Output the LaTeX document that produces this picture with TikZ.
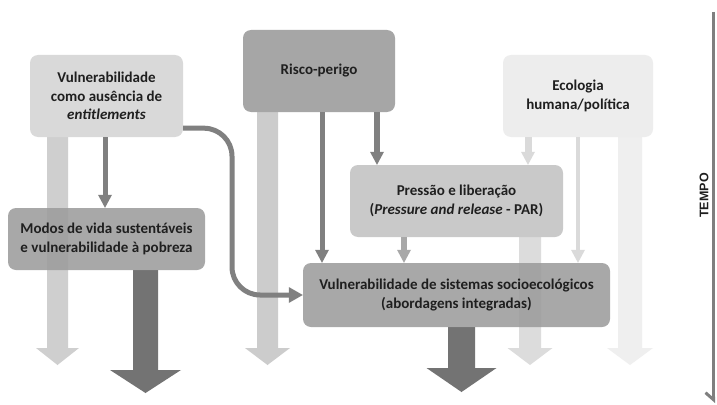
\documentclass[tikz,border=0pt]{standalone}
\usepackage{fontspec}
\setmainfont{Carlito}
\newfontfamily\arialfont{Liberation Sans}
\usetikzlibrary{arrows.meta,calc}
\pgfdeclarelayer{back}
\pgfdeclarelayer{bg}
\pgfsetlayers{back,bg,main}

\definecolor{txt}{HTML}{1F1F1F}
\definecolor{cEnt}{HTML}{D9D9D9}
\definecolor{cRisco}{HTML}{A6A6A6}
\definecolor{cEco}{HTML}{EDEDED}
\definecolor{cPar}{HTML}{C9C9C9}
\definecolor{cMid}{HTML}{9C9C9C}
\definecolor{wideA}{HTML}{CFCFCF}
\definecolor{wideB}{HTML}{CCCCCC}
\definecolor{wideC}{HTML}{DCDCDC}
\definecolor{wideD}{HTML}{EFEFEF}
\definecolor{darkA}{HTML}{737373}
\definecolor{thinA}{HTML}{808080}
\definecolor{thinB}{HTML}{A8A8A8}
\definecolor{thinC}{HTML}{DADADA}
\definecolor{axisc}{HTML}{7F7F7F}

% block arrow: #1 colour, #2 start, #3 tip, #4 shaft half width, #5 head half width, #6 head length
\newcommand\blockarr[6]{%
  \fill[#1] ($(#2)+(-#4,0)$) -- ($(#3)+(-#4,-#6)$) -- ($(#3)+(-#5,-#6)$) -- (#3)
    -- ($(#3)+(#5,-#6)$) -- ($(#3)+(#4,-#6)$) -- ($(#2)+(#4,0)$) -- cycle;}

\tikzset{
  box/.style={rounded corners=8pt, align=center, text=txt, inner sep=0pt,
    font=\bfseries\fontsize{15}{18.7}\selectfont},
  thin/.style={line width=5pt, draw=thinA,
    -{Triangle[width=14pt,length=13pt,line width=0pt]}},
}

\begin{document}
\begin{tikzpicture}[x=1pt,y=-1pt]
\useasboundingbox (0,0) rectangle (717,404);
\begin{pgfonlayer}{back}
  \fill[white] (0,0) rectangle (717,404);
\end{pgfonlayer}

% boxes
\node[box, fill=cEnt, minimum width=153pt, minimum height=82pt] (ent) at (106.5,96)
  {Vulnerabilidade\\como ausência de\\\textit{entitlements}};
\node[box, fill=cRisco, minimum width=152pt, minimum height=82pt] (risco) at (319,71)
  {Risco-perigo};
\node[box, fill=cEco, minimum width=150pt, minimum height=82pt] (eco) at (578,96)
  {Ecologia\\humana/política};
\node[box, fill=cPar, minimum width=213pt, minimum height=72pt] (par) at (456.5,201)
  {Pressão e liberação\\(\textit{Pressure and release} - PAR)};
\node[box, fill=cMid, fill opacity=0.88, text opacity=1, minimum width=197pt, minimum height=62pt] (modos) at (106.5,239)
  {Modos de vida sustentáveis\\e vulnerabilidade à pobreza};
\node[box, fill=cMid, fill opacity=0.88, text opacity=1, minimum width=307pt, minimum height=64pt] (vuln) at (456.5,295)
  {Vulnerabilidade de sistemas socioecológicos\\(abordagens integradas)};

% wide background arrows
\coordinate (w1e) at (57.5,365);  \coordinate (w1s) at (w1e |- ent.south);
\coordinate (w2e) at (267.5,365); \coordinate (w2s) at (w2e |- risco.south);
\coordinate (w3e) at (530,365);   \coordinate (w3s) at (w3e |- par.south);
\coordinate (w4e) at (630,365);   \coordinate (w4s) at (w4e |- eco.south);
\coordinate (d1e) at (145.5,393); \coordinate (d1s) at (d1e |- modos.south);
\coordinate (d2e) at (461.5,392); \coordinate (d2s) at (d2e |- vuln.south);
\begin{pgfonlayer}{bg}
  \blockarr{wideA}{w1s}{w1e}{10.5}{21.5}{17}
  \blockarr{wideB}{w2s}{w2e}{10.5}{22.5}{17}
  \blockarr{wideC}{w3s}{w3e}{11}{22.5}{17}
  \blockarr{wideD}{w4s}{w4e}{12}{23}{17}
  \blockarr{darkA}{d1s}{d1e}{12.5}{35.5}{23}
  \blockarr{darkA}{d2s}{d2e}{13.5}{35}{24}
\end{pgfonlayer}

% thin arrows
\coordinate (xa) at (105,0);
\coordinate (xb) at (322,0);
\coordinate (xc) at (377,0);
\coordinate (xd) at (404,0);
\coordinate (xe) at (528,0);
\coordinate (xf) at (578,0);
\draw[thin] (xa |- ent.south) -- (xa |- modos.north);
\draw[thin] (xb |- risco.south) -- (xb |- vuln.north);
\draw[thin, line width=6pt] (xc |- risco.south) -- (xc |- par.north);
\draw[thin, line width=6pt, draw=thinB] (xd |- par.south) -- (xd |- vuln.north);
\draw[thin, line width=7pt, draw=thinC] (xe |- eco.south) -- (xe |- par.north);
\draw[thin, line width=4.5pt, draw=thinC] (xf |- eco.south) -- (xf |- vuln.north);

% curved arrow
\coordinate (cs) at ($(ent.south east)+(0,-9)$);
\coordinate (cx) at (232,0);
\draw[line width=5pt, draw=thinA, rounded corners=28pt,
  -{Triangle[width=16pt,length=14pt,line width=0pt]}]
  (cs) -- (cs -| cx) -- (cx |- vuln.west) -- (vuln.west);

% time axis
\coordinate (t0) at (713.5,12);
\coordinate (t1) at (713.5,403);
\draw[line width=3pt, draw=axisc, -{Straight Barb[right,length=7pt,width=16pt]}] (t0) -- (t1);
\node[rotate=90, font=\arialfont\bfseries\fontsize{12.5}{14}\selectfont, text=txt] (tempo) at (704,195.5) {TEMPO};
\end{tikzpicture}
\end{document}
